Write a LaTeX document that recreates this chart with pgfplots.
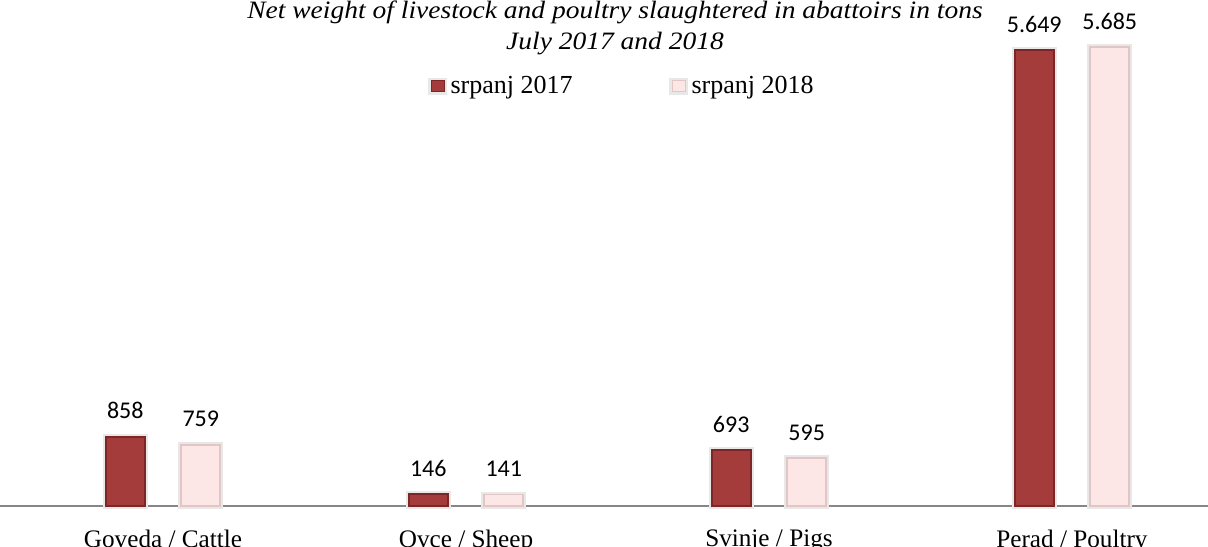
\documentclass[border=0pt]{standalone}
\usepackage{fontspec}
\setmainfont{Liberation Serif}
\newfontfamily\numfont{Carlito}
\newfontfamily\titlefont[FakeStretch=1.1]{Liberation Serif}
\usepackage{pgfplots}
\pgfplotsset{compat=1.18}
\definecolor{redA}{HTML}{A53C3C}
\definecolor{redE}{HTML}{7E2626}
\definecolor{pinkA}{HTML}{FDE6E6}
\definecolor{pinkE}{HTML}{E2C6C6}
\definecolor{axisgray}{HTML}{878787}
\pgfplotsset{sqlegend/.style={legend image code/.code={\draw[##1, line width=0.4pt] (0pt,-2.75pt) rectangle (6.5pt,2.75pt); \path (7pt,0pt);}}}
\begin{document}
\begin{tikzpicture}
\begin{axis}[
 name=ax,
 scale only axis, width=604pt, height=253pt,
 xmin=-0.538, xmax=3.449, ymin=0, ymax=6270,
 enlargelimits=false, clip=false,
 ybar=18.25pt, bar width=19.5pt,
 axis x line=bottom, axis y line=none,
 axis line style={-, draw=axisgray, line width=1pt},
 xtick={0,1,2,3},
 xticklabels={Goveda / Cattle, Ovce / Sheep, Svinje / Pigs, Perad / Poultry},
 xtick style={draw=none},
 xticklabel style={font=\fontsize{12.6}{14}\selectfont, inner sep=0pt, anchor=north, yshift=-9.5pt},
 ytick=\empty,
 /pgf/number format/assume math mode=true,
 /pgf/number format/1000 sep={.},
 nodes near coords,
 every node near coord/.append style={font=\numfont\fontsize{12}{14}\selectfont, inner sep=0pt, anchor=south, yshift=8.5pt, text=black},
 legend style={at={(0.515,0.83)}, anchor=center, draw=none, fill=none, legend columns=2,
   font=\fontsize{13}{15}\selectfont, inner sep=0pt, nodes={inner sep=1.25pt},
   /tikz/every even column/.append style={column sep=47pt}},
 legend cell align=left,
]
\addplot[sqlegend, draw=redE, line width=0.8pt, fill=redA, preaction={draw=black!9, line width=3pt}]
  coordinates {(0,858) (1,146) (2,693) (3,5649)};
\addplot[sqlegend, draw=pinkE, line width=0.8pt, fill=pinkA, preaction={draw=black!9, line width=3pt}]
  coordinates {(0,759) (1,141) (2,595) (3,5685)};
\legend{srpanj 2017, srpanj 2018}
\end{axis}
\begin{scope}[shift={(ax.north west)}, x=0.5pt, y=-0.5pt]
\node[anchor=base, font=\titlefont\itshape\fontsize{12.5}{15}\selectfont, inner sep=0pt] at (615,18.5) {Net weight of livestock and poultry slaughtered in abattoirs in tons};
\node[anchor=base, font=\titlefont\itshape\fontsize{12.5}{15}\selectfont, inner sep=0pt] at (615,49.5) {July 2017 and 2018};
\end{scope}
\pgfresetboundingbox
\path[use as bounding box] (ax.south west) ++(0,-20pt) rectangle (ax.north east);
\end{tikzpicture}
\end{document}
